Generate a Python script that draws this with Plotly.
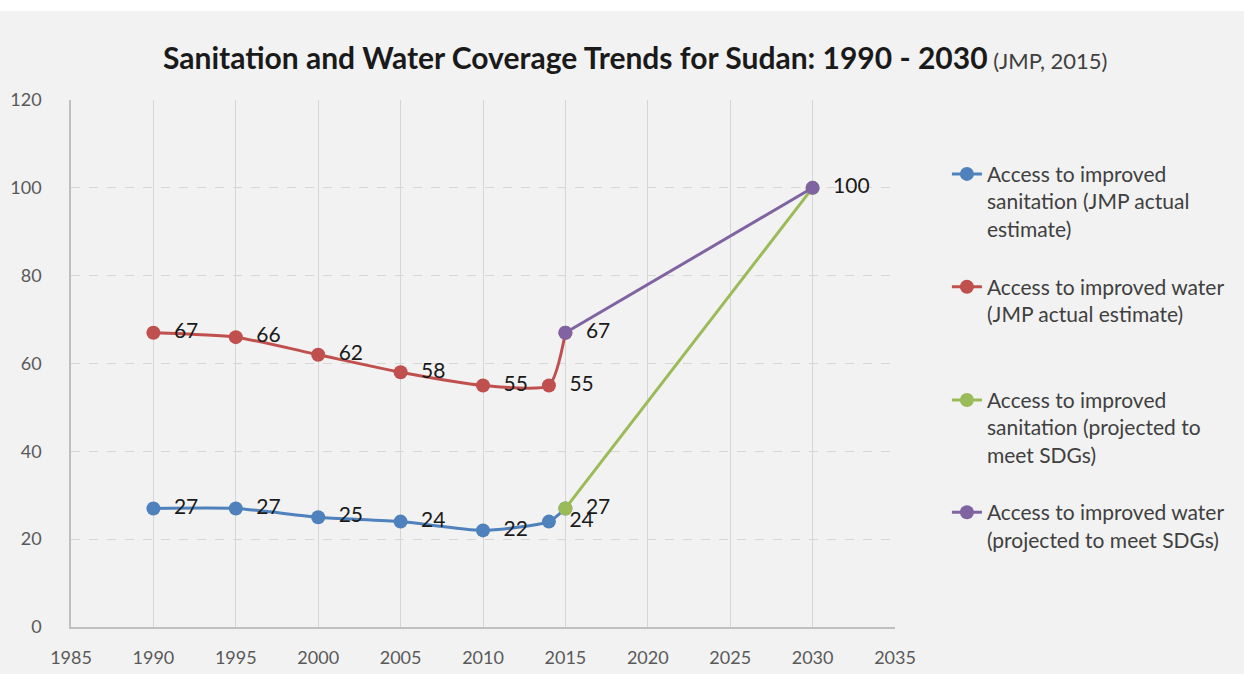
import plotly.graph_objects as go

# Observed JMP estimates (actual), years and coverage %
actual_years = [1990, 1995, 2000, 2005, 2010, 2014, 2015]
sanitation_actual = [27, 27, 25, 24, 22, 24, 27]
water_actual = [67, 66, 62, 58, 55, 55, 67]

# Projections needed to meet the SDGs
proj_years = [2015, 2030]
sanitation_proj = [27, 100]
water_proj = [67, 100]

x_ticks = [1985, 1990, 1995, 2000, 2005, 2010, 2015, 2020, 2025, 2030, 2035]
y_ticks = [0, 20, 40, 60, 80, 100, 120]

names = [
    "Access to improved<br>sanitation (JMP actual<br>estimate)",
    "Access to improved water<br>(JMP actual estimate)",
    "Access to improved<br>sanitation (projected to<br>meet SDGs)",
    "Access to improved water<br>(projected to meet SDGs)",
]
colors = ["#4f81bd", "#c0504d", "#9bbb59", "#8064a2"]

FONT = "Lato"
LABEL_FONT = dict(family=FONT, size=21, color="#1a1a1a")


def labels(vals, skip_last=False, skip_idx=()):
    out = []
    for i, v in enumerate(vals):
        if (skip_last and i == len(vals) - 1) or i in skip_idx:
            out.append("")
        else:
            out.append("\u00a0\u00a0" + str(v))
    return out


fig = go.Figure()

fig.add_trace(go.Scatter(
    x=actual_years, y=sanitation_actual, name=names[0], legend="legend",
    mode="lines+markers+text", text=labels(sanitation_actual, skip_last=True),
    textposition="middle right", textfont=LABEL_FONT,
    line=dict(color=colors[0], width=3, shape="spline", smoothing=0.6),
    marker=dict(color=colors[0], size=14),
))
fig.add_trace(go.Scatter(
    x=actual_years, y=water_actual, name=names[1], legend="legend2",
    mode="lines+markers+text", text=labels(water_actual, skip_last=True),
    textposition="middle right", textfont=LABEL_FONT,
    line=dict(color=colors[1], width=3, shape="spline", smoothing=0.6),
    marker=dict(color=colors[1], size=14),
))
fig.add_trace(go.Scatter(
    x=proj_years, y=sanitation_proj, name=names[2], legend="legend3",
    mode="lines+markers+text", text=labels(sanitation_proj, skip_idx=(1,)),
    textposition="middle right", textfont=LABEL_FONT,
    line=dict(color=colors[2], width=3),
    marker=dict(color=colors[2], size=14),
))
fig.add_trace(go.Scatter(
    x=proj_years, y=water_proj, name=names[3], legend="legend4",
    mode="lines+markers+text", text=labels(water_proj),
    textposition="middle right", textfont=LABEL_FONT,
    line=dict(color=colors[3], width=3),
    marker=dict(color=colors[3], size=14),
))

legend_common = dict(
    x=1.063, xanchor="left", yanchor="top", valign="top",
    bgcolor="rgba(0,0,0,0)", font=dict(family=FONT, size=21, color="#404040"),
    itemclick=False,
)
layout_legends = {}
for key, ytop in zip(["legend", "legend2", "legend3", "legend4"],
                     [0.898, 0.684, 0.469, 0.256]):
    layout_legends[key] = dict(legend_common, y=ytop)

fig.update_layout(
    width=1244, height=674,
    margin=dict(l=71, r=349, t=100, b=47),
    paper_bgcolor="#f2f2f2", plot_bgcolor="#f2f2f2",
    showlegend=True,
    **layout_legends,
    xaxis=dict(
        range=[1985, 2035], tickvals=x_ticks, ticktext=[str(v) for v in x_ticks],
        showgrid=True, gridcolor="#d6d6d6", gridwidth=1,
        showline=True, linecolor="#bfbfbf", linewidth=1.5, zeroline=False,
        ticks="", tickfont=dict(family=FONT, size=18, color="#595959"),
        ticklabelstandoff=14, automargin=False,
    ),
    yaxis=dict(
        range=[0, 120], tickvals=y_ticks,
        showgrid=True, gridcolor="#d6d6d6", gridwidth=1, griddash="dash",
        showline=True, linecolor="#bfbfbf", linewidth=1.5, zeroline=False,
        ticks="", tickfont=dict(family=FONT, size=18, color="#595959"),
        ticklabelstandoff=24, automargin=False,
    ),
    annotations=[dict(
        xref="paper", yref="paper", x=0.684, y=1.082, xanchor="center", yanchor="middle",
        showarrow=False,
        text="<b>Sanitation and Water Coverage Trends for Sudan: 1990 - 2030</b>"
             "<span style='font-size:22px;color:#404040'> (JMP, 2015)</span>",
        font=dict(family=FONT, size=30, color="#1a1a1a"),
    )],
    shapes=[dict(
        type="rect", xref="paper", yref="paper",
        x0=-0.1, x1=0.5 + 1244 / 824, y0=1.169, y1=1.3,
        fillcolor="white", line=dict(width=0), layer="above",
    )],
)

fig.write_html("out.html")
